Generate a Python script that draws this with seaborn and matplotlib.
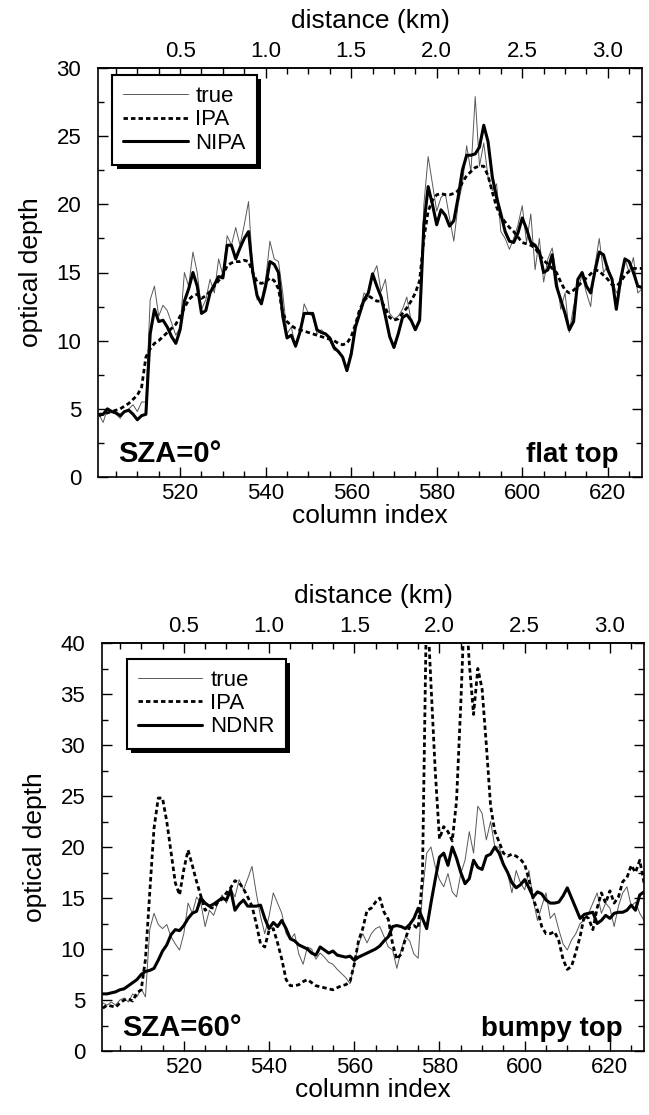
import numpy as np
import pandas as pd
import matplotlib
matplotlib.use("Agg")
import matplotlib.pyplot as plt
from matplotlib.patches import Rectangle
from matplotlib.ticker import MultipleLocator, FixedLocator, FormatStrFormatter
import seaborn as sns

# ---------------- data ----------------
columns = np.arange(501, 629)

true_flat = [4.6, 4.0, 5.0, 4.8, 4.6, 4.3, 4.8, 5.0, 5.3, 4.8,
             5.5, 5.5, 13.0, 14.0, 11.8, 12.6, 12.2, 11.3, 10.4, 11.0,
             15.0, 14.0, 16.5, 15.0, 12.3, 13.0, 14.5, 13.5, 16.0, 14.8,
             17.7, 17.0, 18.3, 17.0, 18.5, 20.2, 15.0, 13.0, 13.0, 14.5,
             17.3, 16.0, 15.8, 13.5, 10.5, 11.0, 9.5, 10.5, 12.7, 12.0,
             11.8, 10.5, 10.8, 10.5, 10.0, 9.3, 9.3, 8.7, 8.0, 9.3,
             11.0, 12.0, 13.5, 13.2, 14.8, 15.5, 13.6, 14.5, 12.0, 11.6,
             11.8, 12.3, 13.2, 11.5, 11.0, 11.3, 20.0, 23.5, 21.5, 19.5,
             20.5, 20.8, 19.0, 17.3, 20.0, 21.5, 24.3, 22.4, 27.9, 22.8,
             24.5, 22.0, 21.0, 21.5, 18.0, 17.5, 16.7, 17.5, 18.5, 19.9,
             17.2, 19.3, 15.2, 17.5, 14.3, 16.0, 16.8, 14.8, 12.3, 13.5,
             10.6, 12.5, 13.8, 14.8, 13.5, 12.5, 15.5, 17.5, 15.0, 15.5,
             14.5, 13.5, 14.0, 16.0, 15.0, 16.1, 13.5, 13.8]

ipa_flat = [4.5, 4.6, 4.7, 4.8, 4.9, 5.0, 5.2, 5.4, 5.7, 6.0,
            6.6, 8.8, 9.4, 9.8, 10.0, 10.3, 10.6, 10.9, 11.2, 11.8,
            12.4, 13.0, 13.3, 13.4, 13.1, 13.3, 13.6, 14.0, 14.4, 14.8,
            15.5, 15.7, 15.8, 15.8, 15.9, 15.8, 15.0, 14.3, 14.2, 14.3,
            14.6, 14.4, 13.8, 12.0, 11.4, 11.1, 10.9, 10.8, 10.7, 10.6,
            10.5, 10.4, 10.3, 10.2, 10.1, 10.0, 9.8, 9.7, 9.8, 10.3,
            11.2, 12.3, 12.9, 13.3, 13.1, 12.9, 12.9, 12.4, 11.7, 11.5,
            11.6, 12.0, 12.4, 12.9, 13.5, 14.4, 17.5, 19.5, 20.3, 20.7,
            20.8, 20.7, 20.7, 20.8, 21.0, 21.6, 22.1, 22.4, 22.7, 22.8,
            22.8, 22.1, 20.9, 19.8, 19.1, 18.7, 18.3, 18.0, 17.6, 17.2,
            17.1, 17.0, 16.8, 16.3, 15.9, 15.6, 15.3, 15.0, 14.3, 13.7,
            13.5, 13.7, 14.0, 14.3, 14.6, 14.9, 15.2, 15.1, 14.8, 14.5,
            14.1, 14.0, 14.3, 14.8, 15.1, 15.3, 15.3, 15.3]

nipa_flat = [4.6, 4.6, 5.0, 4.8, 4.7, 4.5, 4.8, 4.9, 4.6, 4.2,
             4.5, 4.6, 10.5, 12.3, 11.4, 11.5, 11.0, 10.3, 9.8, 10.8,
             12.9, 13.8, 15.0, 14.0, 12.0, 12.2, 13.5, 14.1, 14.7, 14.6,
             17.0, 17.0, 16.0, 16.8, 17.5, 18.0, 15.0, 13.3, 12.7, 14.0,
             15.8, 15.6, 15.0, 11.8, 10.2, 10.4, 9.6, 10.6, 12.0, 12.0,
             12.0, 10.8, 10.6, 10.5, 10.2, 9.5, 9.2, 8.8, 7.8, 9.0,
             11.0, 12.0, 13.0, 13.5, 14.9, 14.0, 13.2, 11.8, 10.3, 9.5,
             10.5, 11.7, 11.9, 11.5, 10.8, 11.5, 18.5, 21.3, 20.0, 18.5,
             19.6, 19.2, 18.4, 18.8, 20.5, 22.5, 23.6, 23.6, 23.7, 24.2,
             25.8, 24.6, 22.0, 20.5, 19.3, 18.0, 17.3, 17.2, 17.9, 19.0,
             18.2, 17.2, 17.0, 16.5, 15.0, 15.2, 16.3, 14.0, 13.0, 12.0,
             10.8, 11.4, 14.5, 15.0, 14.0, 13.5, 15.1, 16.5, 16.3, 15.2,
             14.5, 12.3, 14.5, 16.0, 15.8, 15.0, 14.0, 13.9]

true_bumpy = [4.7, 4.5, 4.8, 4.5, 5.0, 5.2, 4.8, 5.6, 5.3, 6.1,
              5.3, 11.9, 13.5, 12.4, 12.0, 12.4, 11.2, 10.5, 9.9, 11.5,
              14.5, 13.5, 15.1, 14.5, 12.2, 13.8, 13.3, 14.5, 15.3, 14.5,
              15.9, 15.1, 16.8, 15.8, 16.9, 18.1, 15.5, 13.2, 11.5, 13.2,
              15.5, 14.5, 13.5, 11.5, 10.9, 11.5, 9.5, 8.5, 10.2, 10.0,
              9.0, 9.6, 9.2, 8.7, 8.5, 8.0, 7.6, 7.2, 6.6, 8.5,
              10.5, 11.5, 10.6, 11.5, 12.0, 12.2, 11.2, 10.2, 9.9, 8.1,
              9.9, 11.2, 10.8, 9.5, 9.1, 15.5, 19.4, 20.0, 18.1, 16.8,
              16.1, 17.4, 15.6, 15.1, 17.4, 18.7, 21.5, 19.4, 24.0, 23.3,
              20.7, 22.5, 20.0, 20.0, 18.5, 17.4, 15.5, 17.7, 16.5, 15.8,
              17.7, 14.8, 12.8, 14.2, 15.5, 13.0, 13.5, 11.9, 10.5, 9.9,
              10.9, 11.5, 12.5, 12.8, 13.5, 14.5, 15.5, 13.5, 14.5, 14.0,
              12.2, 14.2, 15.5, 16.1, 14.2, 14.6, 13.5, 12.8]

ipa_bumpy = [4.2, 4.5, 4.4, 4.3, 4.7, 5.0, 5.1, 4.9, 5.7, 6.0,
             9.0, 15.5, 21.8, 24.8, 24.8, 22.5, 19.5, 16.5, 15.3, 17.8,
             19.7, 18.2, 16.6, 15.2, 13.8, 14.1, 14.0, 14.6, 14.9, 15.5,
             16.0, 16.7, 16.5, 15.9, 15.1, 14.2, 12.5, 10.5, 10.2, 11.8,
             12.0, 10.6, 9.0, 7.0, 6.4, 6.4, 6.5, 6.8, 7.0, 6.7,
             6.4, 6.3, 6.2, 6.1, 6.0, 6.2, 6.4, 6.5, 6.8, 8.5,
             10.8, 12.0, 13.8, 14.0, 14.6, 15.0, 13.6, 12.9, 10.5, 9.0,
             9.5, 11.0, 12.2, 12.3, 12.0, 17.0, 45.0, 36.0, 27.5, 20.8,
             22.0, 21.5, 20.6, 24.5, 34.0, 45.0, 38.0, 33.0, 37.5, 35.5,
             30.0, 24.0, 21.5, 20.5, 19.4, 19.1, 19.3, 19.1, 18.8, 18.3,
             16.8, 14.9, 13.8, 12.2, 11.5, 11.5, 11.7, 10.8, 9.0, 8.0,
             8.3, 9.7, 11.2, 13.3, 13.0, 11.9, 14.0, 15.5, 14.5, 15.7,
             14.5, 15.1, 16.6, 17.0, 18.2, 17.5, 18.7, 16.5]

ndnr_bumpy = [5.6, 5.6, 5.7, 5.8, 6.0, 6.1, 6.4, 6.7, 7.0, 7.5,
              7.8, 7.9, 8.1, 8.9, 9.8, 10.4, 11.4, 11.9, 11.8, 12.3,
              13.0, 13.5, 13.7, 15.0, 14.5, 14.2, 14.4, 14.7, 15.0, 14.8,
              15.8, 13.8, 14.4, 14.8, 14.2, 14.2, 14.2, 14.3, 13.0, 12.0,
              12.6, 12.2, 12.8, 12.0, 11.0, 10.8, 10.4, 10.2, 10.0, 9.6,
              9.4, 10.2, 9.9, 9.6, 9.8, 9.4, 9.3, 9.2, 9.3, 8.9,
              9.2, 9.4, 9.6, 9.8, 10.0, 10.3, 10.8, 11.2, 12.2, 12.3,
              12.2, 12.0, 12.4, 13.0, 14.0, 13.0, 12.0, 14.5, 16.8, 19.0,
              19.4, 18.2, 20.0, 18.9, 17.5, 16.4, 16.9, 18.7, 18.0, 17.8,
              19.1, 19.3, 20.0, 19.4, 18.3, 17.5, 16.5, 16.0, 16.3, 16.8,
              16.0, 15.1, 15.6, 15.4, 14.8, 14.5, 14.5, 14.6, 15.2, 16.0,
              15.0, 14.0, 13.0, 13.4, 13.5, 13.6, 12.5, 12.8, 13.3, 13.0,
              13.5, 13.6, 13.6, 13.8, 14.3, 13.8, 15.3, 15.6]

km_per_column = 0.025
column_origin = 500
col_ticks = [520, 540, 560, 580, 600, 620]
dist_ticks = [0.5, 1.0, 1.5, 2.0, 2.5, 3.0]

# ---------------- style ----------------
sns.set_theme(style="ticks")
plt.rcParams['font.family'] = ['Liberation Sans', 'DejaVu Sans']
plt.rcParams['text.color'] = 'black'
plt.rcParams['axes.labelcolor'] = 'black'
plt.rcParams['xtick.color'] = 'black'
plt.rcParams['ytick.color'] = 'black'

fig = plt.figure(figsize=(6.49, 11.15), dpi=100)
ax_top = fig.add_axes([98 / 649, 1 - 477 / 1115, 544 / 649, 409 / 1115])
ax_bot = fig.add_axes([102 / 649, 1 - 1051 / 1115, 542 / 649, 408 / 1115])

dash_style = (0, (1.6, 1.1))


def c2d(c):
    return (np.asarray(c) - column_origin) * km_per_column


def d2c(d):
    return np.asarray(d) / km_per_column + column_origin


def style_axes(ax, ymax):
    ax.set_xlim(500.8, 628.0)
    ax.set_ylim(0, ymax)
    ax.xaxis.set_major_locator(FixedLocator(col_ticks))
    ax.xaxis.set_minor_locator(MultipleLocator(5))
    ax.yaxis.set_major_locator(MultipleLocator(5))
    ax.yaxis.set_minor_locator(MultipleLocator(2.5))
    ax.tick_params(which='both', direction='in', top=False, right=True,
                   colors='black', labelcolor='black', width=1.0)
    ax.tick_params(which='major', length=7, labelsize=16)
    ax.tick_params(axis='x', which='major', pad=4)
    ax.tick_params(axis='y', which='major', pad=12)
    ax.tick_params(which='minor', length=4)
    for s in ax.spines.values():
        s.set_linewidth(1.2)
        s.set_color('black')
    ax.set_xlabel('column index', fontsize=19, labelpad=0.5, color='black')
    ax.set_ylabel('optical depth', fontsize=19, labelpad=10, color='black')
    sec = ax.secondary_xaxis('top', functions=(c2d, d2c))
    sec.xaxis.set_major_locator(FixedLocator(dist_ticks))
    sec.xaxis.set_minor_locator(MultipleLocator(0.125))
    sec.xaxis.set_major_formatter(FormatStrFormatter('%.1f'))
    sec.tick_params(which='both', direction='in', colors='black',
                    labelcolor='black', width=1.0)
    sec.tick_params(which='major', length=7, labelsize=16, pad=4)
    sec.tick_params(which='minor', length=4)
    sec.spines['top'].set_linewidth(1.2)
    sec.set_xlabel('distance (km)', fontsize=19, labelpad=10, color='black')
    return sec


def add_legend(ax, anchor):
    leg = ax.legend(loc='upper left', bbox_to_anchor=anchor, borderaxespad=0,
                    fontsize=16, handlelength=2.9, handletextpad=0.35,
                    labelspacing=0.1, borderpad=0.5, fancybox=False,
                    framealpha=1, edgecolor='black', labelcolor='black')
    leg.get_frame().set_linewidth(1.5)
    leg.set_zorder(6)
    return leg


# ---------------- top panel ----------------
sns.lineplot(x=columns, y=true_flat, ax=ax_top, color='0.35', linewidth=0.7,
             label='true', estimator=None)
sns.lineplot(x=columns, y=ipa_flat, ax=ax_top, color='black', linewidth=2.0,
             linestyle=dash_style, label='IPA', estimator=None)
sns.lineplot(x=columns, y=nipa_flat, ax=ax_top, color='black', linewidth=2.2,
             label='NIPA', estimator=None)
style_axes(ax_top, 30)
leg_top = add_legend(ax_top, (0.026, 0.983))
ax_top.text(0.037, 0.036, 'SZA=0°', transform=ax_top.transAxes, fontsize=21,
            fontweight='bold', ha='left', va='baseline', color='black')
ax_top.text(0.956, 0.036, 'flat top', transform=ax_top.transAxes, fontsize=20,
            fontweight='bold', ha='right', va='baseline', color='black')

# ---------------- bottom panel ----------------
sns.lineplot(x=columns, y=true_bumpy, ax=ax_bot, color='0.35', linewidth=0.7,
             label='true', estimator=None)
sns.lineplot(x=columns, y=ipa_bumpy, ax=ax_bot, color='black', linewidth=2.0,
             linestyle=dash_style, label='IPA', estimator=None)
sns.lineplot(x=columns, y=ndnr_bumpy, ax=ax_bot, color='black', linewidth=2.2,
             label='NDNR', estimator=None)
style_axes(ax_bot, 40)
leg_bot = add_legend(ax_bot, (0.046, 0.961))
ax_bot.text(0.037, 0.036, 'SZA=60°', transform=ax_bot.transAxes, fontsize=21,
            fontweight='bold', ha='left', va='baseline', color='black')
ax_bot.text(0.961, 0.036, 'bumpy top', transform=ax_bot.transAxes, fontsize=20,
            fontweight='bold', ha='right', va='baseline', color='black')

# solid black drop shadows behind the legend boxes
fig.canvas.draw()
for ax, leg in ((ax_top, leg_top), (ax_bot, leg_bot)):
    bb = leg.get_frame().get_window_extent()
    shadow = Rectangle((bb.x0 + 4.5, bb.y0 - 4.5), bb.width, bb.height,
                       transform=None, facecolor='black', edgecolor='none',
                       zorder=5.5, clip_on=False)
    ax.add_artist(shadow)

fig.savefig('out.png', dpi=100)
